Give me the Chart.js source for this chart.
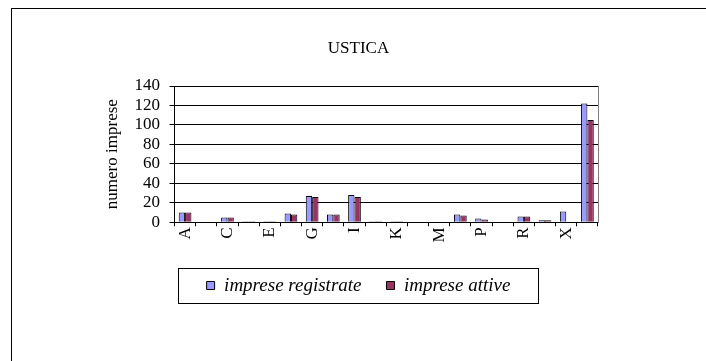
<!DOCTYPE html>
<html>
<head>
<meta charset="utf-8">
<script src="https://cdn.jsdelivr.net/npm/chart.js@4/dist/chart.umd.min.js"></script>
<style>
  html, body { margin: 0; padding: 0; background: #fff; width: 706px; height: 361px; overflow: hidden; }
  #c { position: absolute; left: 11px; top: 8px; }
  .lt { position: absolute; left: 11px; top: 8px; width: 695px; height: 1px; background: #000; }
  .ll { position: absolute; left: 11px; top: 8px; width: 1px; height: 353px; background: #000; }
</style>
</head>
<body>
<canvas id="c" width="695" height="353"></canvas>
<div class="lt"></div>
<div class="ll"></div>
<script>
const titleText = 'USTICA';
const yTitle = 'numero imprese';
const categories = ['A','B','C','D','E','F','G','H','I','J','K','L','M','N','P','Q','R','S','X','Totale'];
const registrate = [10,0,5,1,1,9,27,8,28,1,1,0,0,8,4,0,6,2,11,122];
const attive     = [10,0,5,1,1,8,26,8,26,1,1,0,0,7,3,0,6,2,0,105];
const seriesNames = ['imprese registrate', 'imprese attive'];
const yTicks = [0,20,40,60,80,100,120,140];

const serif = '"Liberation Serif", "Times New Roman", serif';

const legendBorder = {
  id: 'legendBorder',
  afterDraw(chart) {
    const lg = chart.legend;
    if (!lg || !lg.legendHitBoxes || !lg.legendHitBoxes.length) return;
    const hb = lg.legendHitBoxes;
    const first = hb[0], last = hb[hb.length - 1];
    const cy = first.top + first.height / 2;
    const left = first.left - 29;
    const right = last.left + last.width + 27;
    const ctx = chart.ctx;
    ctx.save();
    ctx.strokeStyle = '#000';
    ctx.lineWidth = 1;
    ctx.strokeRect(Math.round(left) + 0.5, Math.round(cy - 17.5) + 0.5, Math.round(right - left), 35);
    ctx.restore();
  }
};

new Chart(document.getElementById('c'), {
  type: 'bar',
  data: {
    labels: categories,
    datasets: [
      { label: seriesNames[0], data: registrate, backgroundColor: '#9999FF', borderColor: '#000', borderWidth: 1, yAxisID: 'y' },
      { label: seriesNames[1], data: attive, backgroundColor: '#993366', borderColor: '#000', borderWidth: 1, yAxisID: 'y' }
    ]
  },
  plugins: [legendBorder],
  options: {
    responsive: false,
    animation: false,
    devicePixelRatio: 1,
    layout: { padding: { top: 30.8, left: 88, right: 88, bottom: 56 } },
    datasets: { bar: { categoryPercentage: 0.6, barPercentage: 1.0 } },
    plugins: {
      title: {
        display: true, text: titleText, color: '#000',
        font: { family: serif, size: 17, weight: 'normal' },
        padding: { top: 0, bottom: 26.8 }
      },
      legend: {
        display: true, position: 'bottom',
        labels: {
          color: '#000',
          font: { family: serif, size: 19, style: 'italic' },
          boxWidth: 8, boxHeight: 8, padding: 25
        }
      },
      tooltip: { enabled: false }
    },
    scales: {
      x: {
        grid: { display: true, drawOnChartArea: false, drawTicks: true, tickLength: 4, color: '#000', offset: true },
        border: { color: '#000', width: 1 },
        ticks: {
          autoSkip: false, minRotation: 90, maxRotation: 90, padding: 1, color: '#000',
          font: { family: serif, size: 17 },
          callback: function(v, i) { return i % 2 === 0 ? categories[i] : ''; }
        },
        afterFit: function(s) { s.height = 28.7; }
      },
      y: {
        position: 'left', min: 0, max: 140,
        afterBuildTicks: function(s) { s.ticks = yTicks.map(v => ({ value: v })); },
        grid: { color: '#000', lineWidth: 1, tickLength: 5, drawTicks: true },
        border: { color: '#000', width: 1 },
        ticks: { autoSkip: false, color: '#000', padding: 9.5, font: { family: serif, size: 17 } },
        title: { display: true, text: yTitle, color: '#000', font: { family: serif, size: 17, weight: 'normal' }, padding: { top: 3, bottom: 0 } },
        afterFit: function(s) { s.width = 75.5; }
      },
      y2: {
        position: 'right', display: true, min: 0, max: 140,
        grid: { display: true, drawOnChartArea: false, drawTicks: false },
        border: { color: '#808080', width: 1 },
        ticks: { display: false },
        afterFit: function(s) { s.width = 20; }
      }
    }
  }
});
</script>
</body>
</html>
